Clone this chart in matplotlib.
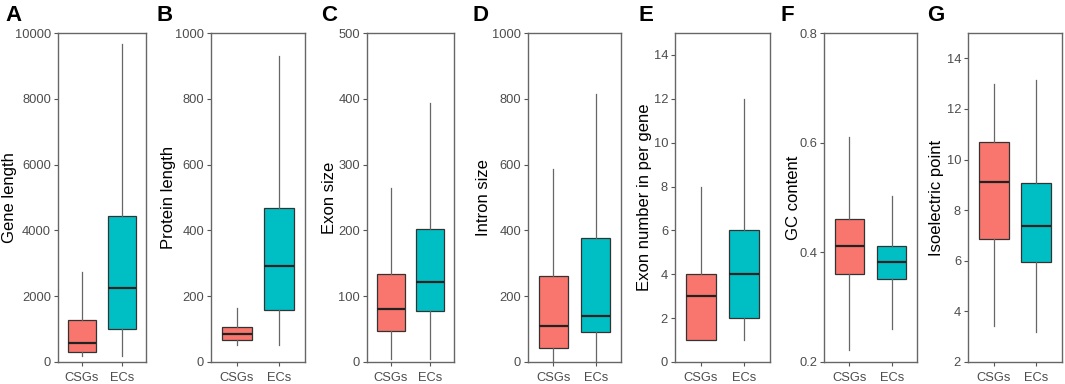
import matplotlib
matplotlib.use("Agg")
import matplotlib.pyplot as plt

plt.rcParams['font.family'] = ['Liberation Sans', 'DejaVu Sans']

groups = ["CSGs", "ECs"]
colors = ["#F8766D", "#00BFC4"]
letters = ["A", "B", "C", "D", "E", "F", "G"]
ylabels = ["Gene length", "Protein length", "Exon size", "Intron size",
           "Exon number in per gene", "GC content", "Isoelectric point"]

# box stats per panel: (whislo, q1, med, q3, whishi) for CSGs and ECs
gene_length = [(190, 290, 575, 1265, 2735), (170, 990, 2240, 4450, 9665)]
protein_length = [(53, 67, 84, 105, 164), (53, 159, 291, 467, 929)]
exon_size = [(5, 47, 80, 134, 264), (5, 77, 121, 202, 393)]
intron_size = [(0, 42, 109, 261, 587), (0, 92, 141, 378, 814)]
exon_number = [(1, 1, 3, 4, 8), (1, 2, 4, 6, 12)]
gc_content = [(0.221, 0.361, 0.411, 0.461, 0.611), (0.261, 0.351, 0.382, 0.411, 0.502)]
isoelectric = [(3.44, 6.87, 9.11, 10.70, 12.98), (3.18, 5.97, 7.38, 9.06, 13.13)]
panels = [gene_length, protein_length, exon_size, intron_size,
          exon_number, gc_content, isoelectric]

ylims = [(0, 10000), (0, 1000), (0, 500), (0, 1000), (0, 15), (0.2, 0.8), (2, 15)]
yticks = [range(0, 10001, 2000), range(0, 1001, 200), range(0, 501, 100),
          range(0, 1001, 200), range(0, 15, 2), [0.2, 0.4, 0.6, 0.8], range(2, 15, 2)]
yticklabels = [None, None, None, None, None, ["0.2", "0.4", "0.6", "0.8"], None]

# axes pixel extents (left, right), y label centre and letter x
extents = [(58, 146), (211, 305), (367, 454), (528, 621), (675, 770), (824, 917), (968, 1062)]
label_x = [10, 168, 330, 484, 645, 793, 937]
letter_x = [5, 157, 321, 473, 638, 781, 927]

W, H = 1065, 384
fig = plt.figure(figsize=(W / 100, H / 100), dpi=100)
bottom = 1 - 362 / H
top = 1 - 33 / H

for i, data in enumerate(panels):
    l, r = extents[i]
    ax = fig.add_axes([l / W, bottom, (r - l) / W, top - bottom])
    stats = []
    for g, d in zip(groups, data):
        stats.append(dict(label=g, whislo=d[0], q1=d[1], med=d[2], q3=d[3], whishi=d[4], fliers=[]))
    bp = ax.bxp(stats, positions=[1, 2], widths=0.7, patch_artist=True, showcaps=False,
                boxprops=dict(edgecolor="#333333", linewidth=0.9),
                medianprops=dict(color="#222222", linewidth=1.6),
                whiskerprops=dict(color="#666666", linewidth=0.9))
    for patch, c in zip(bp["boxes"], colors):
        patch.set_facecolor(c)
    ax.set_xlim(0.4, 2.6)
    ax.set_ylim(*ylims[i])
    ax.set_yticks(list(yticks[i]))
    if yticklabels[i] is not None:
        ax.set_yticklabels(yticklabels[i])
    ax.set_xticks([1, 2])
    ax.set_xticklabels(groups)
    ax.tick_params(axis="both", direction="out", length=3, width=0.8, color="#555555",
                   labelcolor="#4D4D4D", labelsize=9.3, pad=2)
    ax.tick_params(axis="x", pad=4)
    for s in ax.spines.values():
        s.set_color("#666666")
        s.set_linewidth(1.0)
    fig.text(label_x[i] / W, (bottom + top) / 2, ylabels[i], fontsize=12, color="black",
             rotation=90, ha="center", va="center")
    fig.text(letter_x[i] / W, 1 - 5 / H, letters[i], fontsize=16, fontweight="bold",
             ha="left", va="top")

fig.savefig("out.png", dpi=100)
